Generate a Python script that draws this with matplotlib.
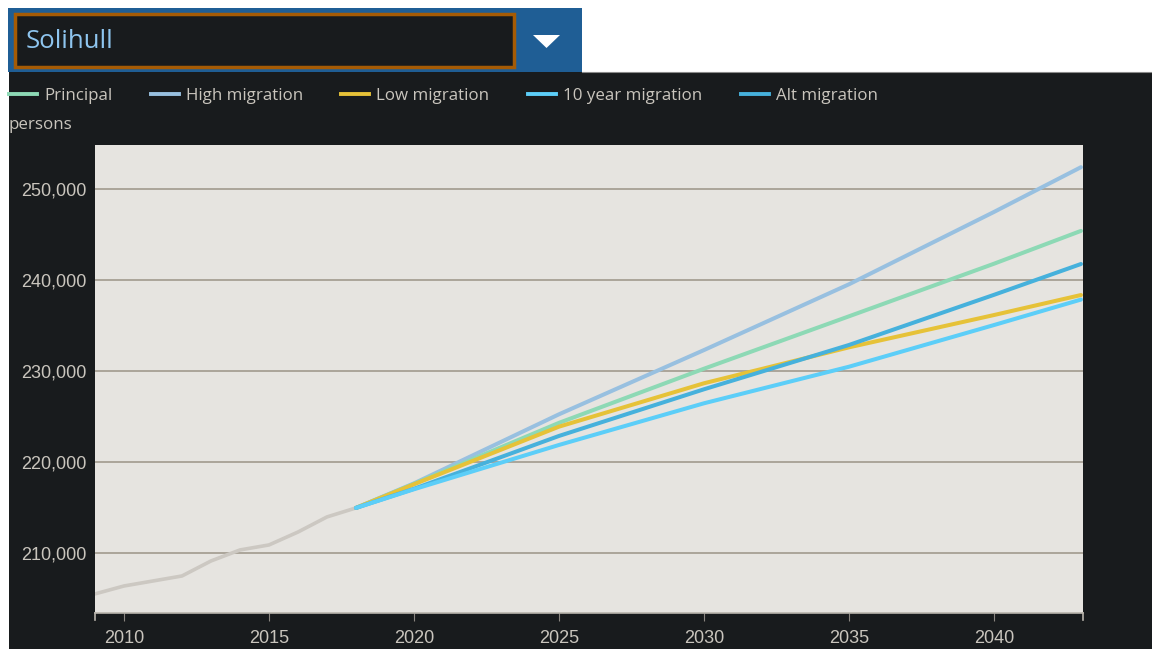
import matplotlib
matplotlib.use("Agg")
import matplotlib.pyplot as plt
from matplotlib.patches import Rectangle, Polygon
from matplotlib.lines import Line2D
from matplotlib.ticker import FuncFormatter

plt.rcParams["font.family"] = ["Open Sans", "DejaVu Sans"]

# ---- data ----
area = "Solihull"
hist_years = [2009, 2010, 2011, 2012, 2013, 2014, 2015, 2016, 2017, 2018]
hist_pop = [205500, 206370, 206920, 207470, 209120, 210330, 210880, 212300, 213960, 214950]

proj_years = [2018, 2020, 2025, 2030, 2035, 2040, 2043]
principal = [214950, 217600, 224300, 230250, 236010, 241790, 245400]
high_mig = [214950, 217650, 225240, 232300, 239530, 247480, 252400]
low_mig = [214950, 217550, 223880, 228650, 232600, 236150, 238350]
ten_year = [214950, 217000, 221870, 226450, 230470, 235050, 237850]
alt_mig = [214950, 217050, 222860, 227990, 232860, 238370, 241760]

series_names = ["Principal", "High migration", "Low migration", "10 year migration", "Alt migration"]
series_vals = [principal, high_mig, low_mig, ten_year, alt_mig]
series_cols = ["#8dd9b5", "#98c0e0", "#e6c238", "#5ccef8", "#46b1dc"]
# drawing order: lower lines first so crossings look like the reference
draw_order = [1, 0, 2, 4, 3]

yticks = [210000, 220000, 230000, 240000, 250000]
xticks = [2010, 2015, 2020, 2025, 2030, 2035, 2040]

W, H = 1152, 649
DARK = "#181b1d"
TXT = "#c9c5bd"


def px(x0, y0, x1, y1):
    """pixel box (top-left origin) -> figure fraction rect"""
    return [x0 / W, 1 - y1 / H, (x1 - x0) / W, (y1 - y0) / H]


fig = plt.figure(figsize=(W / 100, H / 100), dpi=100, facecolor="white")

# dark panel + thin top rule
r = px(9, 72, W, H)
fig.patches.append(Rectangle(r[:2], r[2], r[3], transform=fig.transFigure,
                             facecolor=DARK, edgecolor="none", zorder=0))
fig.add_artist(Line2D([582 / W, 1], [1 - 72 / H] * 2, color="#8a8a8a", lw=0.8))

# dropdown
r = px(8, 8, 582, 72)
fig.patches.append(Rectangle(r[:2], r[2], r[3], transform=fig.transFigure,
                             facecolor="#1f5e95", edgecolor="none", zorder=1))
r = px(15, 14, 514, 67)
fig.patches.append(Rectangle(r[:2], r[2], r[3], transform=fig.transFigure,
                             facecolor=DARK, edgecolor="#a55b05", lw=2.5, zorder=2))
fig.patches.append(Polygon([(533 / W, 1 - 35 / H), (560 / W, 1 - 35 / H), (546.5 / W, 1 - 48 / H)],
                           closed=True, transform=fig.transFigure,
                           facecolor="white", edgecolor="none", zorder=3))
fig.text(26 / W, 1 - 41 / H, area, color="#8ec5ef", fontsize=18.5, va="center", ha="left")

# axes
ax = fig.add_axes(px(95, 145, 1083, 613))
ax.set_zorder(5)
ax.set_facecolor("#e6e4e0")
ax.plot(hist_years, hist_pop, color="#ccc8c2", lw=2.6, solid_capstyle="round", zorder=3)
for i in draw_order:
    ax.plot(proj_years, series_vals[i], color=series_cols[i], lw=2.9,
            solid_capstyle="round", solid_joinstyle="round", zorder=4)

ax.set_xlim(2009, 2043.07)
ax.set_ylim(203400, 254840)
ax.set_yticks(yticks)
ax.set_xticks(xticks)
ax.yaxis.set_major_formatter(FuncFormatter(lambda v, p: f"{int(v):,}"))
ax.grid(axis="y", color="#9b9486", lw=1.1)
ax.set_axisbelow(True)
for s in ["top", "right", "left"]:
    ax.spines[s].set_visible(False)
ax.spines["bottom"].set_color("#b8b4ac")
ax.spines["bottom"].set_linewidth(1.2)
ax.tick_params(axis="y", length=0, pad=6, labelcolor=TXT, labelsize=13)
ax.tick_params(axis="x", length=6, color="#8a8680", pad=6, labelcolor=TXT, labelsize=13)
for lab in ax.get_xticklabels() + ax.get_yticklabels():
    lab.set_family(["Liberation Sans", "DejaVu Sans"])
# outer end ticks (d3 style)
for xe in (0, 1):
    ax.add_line(Line2D([xe, xe], [0, -0.016], transform=ax.transAxes,
                       color="#b8b4ac", lw=1.2, clip_on=False))

# legend
fs = 12.2
handles = [Line2D([], [], color=c, lw=2.8) for c in series_cols]
fs_px = fs * 100 / 72
leg = fig.legend(handles, series_names, loc="upper left",
                 bbox_to_anchor=(9 / W, 1 - 88 / H), ncol=5, frameon=False,
                 fontsize=fs, labelcolor=TXT, handlelength=28 / fs_px,
                 handletextpad=7 / fs_px, columnspacing=38.5 / fs_px,
                 borderpad=0, borderaxespad=0)
fig.text(9 / W, 1 - 125 / H, "persons", color=TXT, fontsize=fs, va="center", ha="left")

fig.savefig("out.png", dpi=100, facecolor=fig.get_facecolor())
